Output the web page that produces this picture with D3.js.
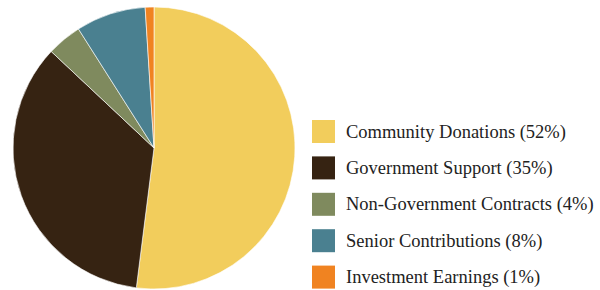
<!DOCTYPE html>
<meta charset="utf-8">
<style>
	body {
		margin: 0;
		background: #fff;
	}
	.legend text {
		font: 18.5px "Liberation Serif", serif;
		fill: #222;
	}
</style>
<script src="https://d3js.org/d3.v7.min.js"></script>
<svg width="600" height="290" class="chart"></svg>
<script>
	var categories = ["Community Donations", "Government Support", "Non-Government Contracts", "Senior Contributions", "Investment Earnings"];
	var shares = [52, 35, 4, 8, 1];
	var colours = ["#f2cd5c", "#362312", "#7f8a5e", "#4a8090", "#f08321"];

	var data = categories.map(function(c, i) {
		return {name: c, value: shares[i], colour: colours[i]};
	});

	var svg = d3.select(".chart"),
		cx = 154, cy = 148, radius = 141;

	var pie = d3.pie()
		.sort(null)
		.value(function(d) { return d.value; });

	var arc = d3.arc()
		.innerRadius(0)
		.outerRadius(radius);

	var g = svg.append("g")
		.attr("transform", "translate(" + cx + "," + cy + ")");

	g.selectAll("path")
		.data(pie(data))
		.enter().append("path")
			.attr("d", arc)
			.attr("fill", function(d) { return d.data.colour; })
			.attr("stroke", "rgba(255,255,255,0.6)")
			.attr("stroke-width", 1);

	// legend on the right
	var y = d3.scaleBand()
		.domain(categories)
		.range([120, 302])
		.paddingInner(0);

	var legend = svg.append("g")
		.attr("class", "legend")
		.selectAll("g")
		.data(data)
		.enter().append("g")
			.attr("transform", function(d) { return "translate(312," + y(d.name) + ")"; });

	legend.append("rect")
		.attr("width", 23)
		.attr("height", 23)
		.attr("fill", function(d) { return d.colour; });

	legend.append("text")
		.attr("x", 34)
		.attr("y", 17.5)
		.text(function(d) { return d.name + " (" + d.value + "%)"; });
</script>
